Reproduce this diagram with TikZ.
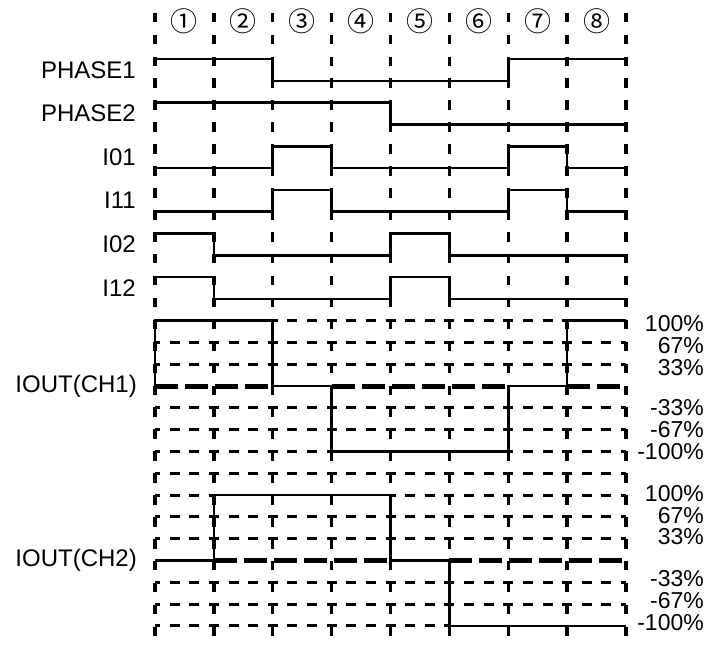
\documentclass[tikz,border=0pt]{standalone}
\usepackage{fontspec}
\setmainfont{Liberation Sans}
\newfontfamily\circfont{Noto Sans CJK SC}
\tikzset{
  vgrid/.style={line width=3.3pt, dash pattern=on 9.5pt off 12.43pt},
  hgrid/.style={line width=3pt, dash pattern=on 10pt off 9.625pt, dash phase=5pt},
  zgrid/.style={line width=5pt, dash pattern=on 23pt off 7pt},
  wave/.style={line width=2.6pt, line join=miter},
  sig/.style={font=\fontsize{24}{28}\selectfont, anchor=east, inner sep=0pt},
  pct/.style={font=\fontsize{23}{26}\selectfont, anchor=east, inner sep=0pt},
  num/.style={font=\circfont\fontsize{27}{30}\selectfont, inner sep=0pt}
}
\begin{document}
\begin{tikzpicture}[x=1pt,y=1pt]
\useasboundingbox (0,0) rectangle (706,-645);
\begin{scope}[shift={(155pt,-59pt)}, x=58.875pt, y=-21.8pt]
  % vertical dashed lines
  \foreach \c in {0,...,8} \draw[vgrid] (\c,-2.124) -- (\c,26.47);
  % CH1 grid
  \foreach \r in {13,14,16,17} \draw[hgrid] (0,\r) -- (8,\r);
  \draw[hgrid] (2,12) -- (7,12);
  \draw[hgrid] (0,18) -- (3,18) (6,18) -- (8,18);
  \draw[zgrid] (0,15) -- (2,15) (3,15) -- (6,15) (7,15) -- (8,15);
  % CH2 grid
  \foreach \r in {19,21,22,24,25} \draw[hgrid] (0,\r) -- (8,\r);
  \draw[hgrid] (0,20) -- (1,20) (4,20) -- (8,20);
  \draw[hgrid] (0,26) -- (5,26);
  \draw[zgrid] (1,23) -- (4,23) (5,23) -- (8,23);
  % waveforms
  \draw[wave] (0,0) -- (2,0) -- (2,1) -- (6,1) -- (6,0) -- (8,0);
  \draw[wave] (0,2) -- (4,2) -- (4,3) -- (8,3);
  \draw[wave] (0,5) -- (2,5) -- (2,4) -- (3,4) -- (3,5) -- (6,5) -- (6,4) -- (7,4) -- (7,5) -- (8,5);
  \draw[wave] (0,7) -- (2,7) -- (2,6) -- (3,6) -- (3,7) -- (6,7) -- (6,6) -- (7,6) -- (7,7) -- (8,7);
  \draw[wave] (0,8) -- (1,8) -- (1,9) -- (4,9) -- (4,8) -- (5,8) -- (5,9) -- (8,9);
  \draw[wave] (0,10) -- (1,10) -- (1,11) -- (4,11) -- (4,10) -- (5,10) -- (5,11) -- (8,11);
  \draw[wave] (0,15) -- (0,12) -- (2,12) -- (2,15) -- (3,15) -- (3,18) -- (6,18) -- (6,15) -- (7,15) -- (7,12) -- (8,12);
  \draw[wave] (0,23) -- (1,23) -- (1,20) -- (4,20) -- (4,23) -- (5,23) -- (5,26) -- (8,26);
\end{scope}
% column numbers
\foreach \t [count=\i from 0] in {①,②,③,④,⑤,⑥,⑦,⑧}
  \node[num] (n\i) at ({155+(\i+0.5)*58.875},-21) {\t};
% left labels
\node[sig] (lp1) at (136,-70.2) {PHASE1};
\node[sig] (lp2) at (136,-113.5) {PHASE2};
\node[sig] (l01) at (136,-157.1) {I01};
\node[sig] (l11) at (136,-200.7) {I11};
\node[sig] (l02) at (136,-244.3) {I02};
\node[sig] (l12) at (136,-287.9) {I12};
\node[sig] (lc1) at (137,-386) {IOUT(CH1)};
\node[sig] (lc2) at (137,-560.4) {IOUT(CH2)};
% right labels CH1
\node[pct] (a1) at (704,-323.5) {100\%};
\node[pct] (a2) at (704,-345.3) {67\%};
\node[pct] (a3) at (704,-367.1) {33\%};
\node[pct] (a4) at (704,-407.6) {-33\%};
\node[pct] (a5) at (704,-429.4) {-67\%};
\node[pct] (a6) at (704,-451.2) {-100\%};
% right labels CH2
\node[pct] (b1) at (704,-493.3) {100\%};
\node[pct] (b2) at (704,-515.1) {67\%};
\node[pct] (b3) at (704,-536.9) {33\%};
\node[pct] (b4) at (704,-578.5) {-33\%};
\node[pct] (b5) at (704,-600.3) {-67\%};
\node[pct] (b6) at (704,-622.1) {-100\%};
\end{tikzpicture}
\end{document}
